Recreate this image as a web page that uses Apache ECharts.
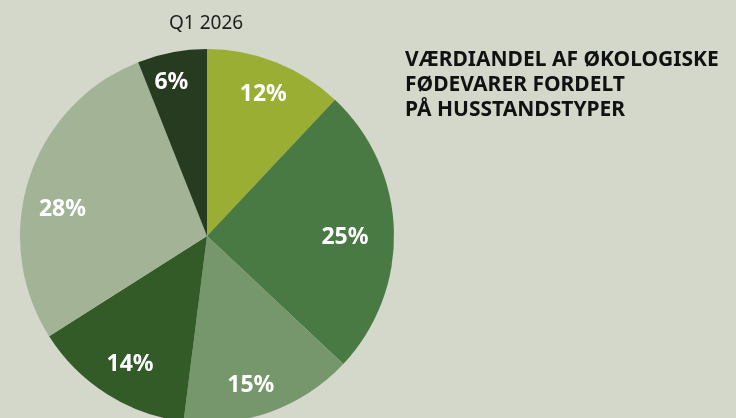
<!DOCTYPE html>
<html><head><meta charset="utf-8">
<style>html,body{margin:0;padding:0;background:#d3d8cb;}#c{width:736px;height:418px;}</style>
<script src="https://cdn.jsdelivr.net/npm/echarts@6/dist/echarts.min.js"></script>
</head><body><div id="c"></div>
<script>
const categories = ['A','B','C','D','E','F'];
const values = [12, 25, 15, 14, 28, 6];
const colors = ['#9aae34', '#497a44', '#76966b', '#325b28', '#a3b396', '#263b20'];
const periodLabel = 'Q1 2026';
const headline = 'VÆRDIANDEL AF ØKOLOGISKE\nFØDEVARER FORDELT\nPÅ HUSSTANDSTYPER';
// small visual nudges of the value labels (style, not data)
const labelNudge = [[0,1], [-15,6], [-8,5], [5,-1], [1,21], [-7,-3]];

const data = categories.map((c, i) => ({ name: c, value: values[i], itemStyle: { color: colors[i] } }));
const labelData = categories.map((c, i) => ({ name: c, value: values[i], label: { offset: labelNudge[i] } }));

const chart = echarts.init(document.getElementById('c'));
chart.setOption({
  backgroundColor: '#d3d8cb',
  animation: false,
  title: [
    { text: periodLabel, left: 164, top: 9,
      textStyle: { fontFamily: 'Noto Sans', fontSize: 19, fontWeight: 'normal', color: '#1e1e1e' } },
    { text: headline, left: 400, top: 43,
      textStyle: { fontFamily: 'Noto Sans', fontSize: 21, fontWeight: 'bold', color: '#111', lineHeight: 25 } }
  ],
  series: [
    { type: 'pie', center: [207, 236], radius: [0, 187], startAngle: 90, clockwise: true,
      data: data, label: { show: false }, labelLine: { show: false }, silent: true },
    { type: 'pie', center: [207, 236], radius: [113, 187], startAngle: 90, clockwise: true,
      data: labelData, itemStyle: { color: 'rgba(0,0,0,0)' }, silent: true,
      label: { show: true, position: 'inside', formatter: '{c}%', color: '#fff',
        fontFamily: 'Noto Sans', fontWeight: 'bold', fontSize: 23 },
      labelLine: { show: false } }
  ]
});
</script></body></html>
